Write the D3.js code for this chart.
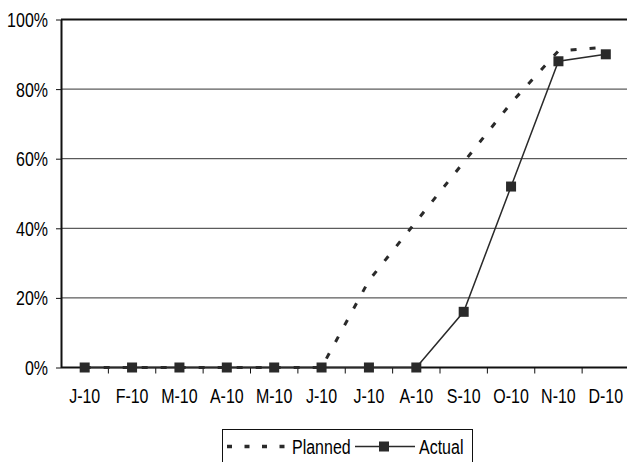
<!DOCTYPE html>
<html>
<head>
<meta charset="utf-8">
<script src="https://cdn.jsdelivr.net/npm/d3@7"></script>
<style>
  html, body { margin: 0; padding: 0; background: #fff; }
  svg { display: block; }
  text { font-family: "Liberation Sans", Arial, sans-serif; fill: #000; }
</style>
</head>
<body>
<script>
// Monthly progress, 2010
const months = ["J-10", "F-10", "M-10", "A-10", "M-10", "J-10", "J-10", "A-10", "S-10", "O-10", "N-10", "D-10"];
const planned = [0, 0, 0, 0, 0, 0, 25, 42, 59, 76, 91, 92];
const actual  = [0, 0, 0, 0, 0, 0, 0, 0, 16, 52, 88, 90];
const yTicks = [0, 20, 40, 60, 80, 100];
const seriesNames = ["Planned", "Actual"];

const W = 627, H = 462;
const ink = "#2a2a2a";
const fontSize = 19.5, squeeze = 0.82;

const svg = d3.select("body").append("svg")
  .attr("width", W).attr("height", H);

const plotLeft = 61, plotRight = 629.5, plotTop = 19.5, plotBottom = 367.5;

// band scale gives the tick boundaries, points sit at band centres
const xBand = d3.scaleBand().domain(d3.range(months.length)).range([plotLeft, plotRight]).padding(0);
const xc = i => xBand(i) + xBand.bandwidth() / 2;
const y = d3.scaleLinear().domain([0, 100]).range([plotBottom, plotTop]);

// horizontal gridlines
svg.append("g").selectAll("line")
  .data(yTicks.filter(d => d > 0))
  .join("line")
  .attr("x1", plotLeft).attr("x2", W)
  .attr("y1", d => y(d)).attr("y2", d => y(d))
  .attr("stroke", d => d === 100 ? "#111" : "#333")
  .attr("stroke-width", d => d === 100 ? 2 : 1);

// y axis
const yAxis = svg.append("g")
  .attr("transform", `translate(${plotLeft},0)`)
  .call(d3.axisLeft(y).tickValues(yTicks).tickFormat(d => d + "%").tickSize(5).tickSizeOuter(0));
yAxis.select(".domain").attr("stroke", "#111").attr("stroke-width", 2);
yAxis.selectAll(".tick line").attr("stroke", "#111").attr("stroke-width", 1);
yAxis.selectAll(".tick text")
  .attr("font-size", fontSize)
  .attr("font-family", "Liberation Sans, Arial, sans-serif")
  .attr("fill", "#000")
  .attr("x", -13 / squeeze)
  .attr("dy", "0.36em")
  .attr("transform", `scale(${squeeze},1)`);

// x axis: ticks on band boundaries, labels at band centres
const xAxisG = svg.append("g");
xAxisG.append("line")
  .attr("x1", plotLeft).attr("x2", W)
  .attr("y1", plotBottom).attr("y2", plotBottom)
  .attr("stroke", "#111").attr("stroke-width", 2);
xAxisG.selectAll("line.tk")
  .data(d3.range(1, months.length))
  .join("line").attr("class", "tk")
  .attr("x1", i => xBand(i)).attr("x2", i => xBand(i))
  .attr("y1", plotBottom).attr("y2", plotBottom + 6)
  .attr("stroke", "#111").attr("stroke-width", 1);
xAxisG.selectAll("text")
  .data(months)
  .join("text")
  .attr("transform", (d, i) => `translate(${xc(i)},403) scale(${squeeze},1)`)
  .attr("text-anchor", "middle")
  .attr("font-size", fontSize)
  .text(d => d);

// planned series: dashed line
const line = d3.line().x((d, i) => xc(i)).y(d => y(d));
svg.append("path")
  .datum(planned)
  .attr("d", line)
  .attr("fill", "none")
  .attr("stroke", ink)
  .attr("stroke-width", 3)
  .attr("stroke-dasharray", "6,13");

// actual series: solid line with square markers
svg.append("path")
  .datum(actual)
  .attr("d", line)
  .attr("fill", "none")
  .attr("stroke", ink)
  .attr("stroke-width", 1.5);
const m = 10;
svg.append("g").selectAll("rect")
  .data(actual)
  .join("rect")
  .attr("x", (d, i) => xc(i) - m / 2)
  .attr("y", d => y(d) - m / 2)
  .attr("width", m).attr("height", m)
  .attr("fill", ink);

// legend
const lg = svg.append("g");
lg.append("rect")
  .attr("x", 222.5).attr("y", 429.5)
  .attr("width", 250).attr("height", 45)
  .attr("fill", "#fff").attr("stroke", "#111").attr("stroke-width", 1);
lg.append("line")
  .attr("x1", 227).attr("x2", 291).attr("y1", 446.5).attr("y2", 446.5)
  .attr("stroke", ink).attr("stroke-width", 3.5).attr("stroke-dasharray", "5,12.5");
lg.append("text")
  .attr("transform", `translate(292,453.5) scale(${squeeze},1)`)
  .attr("font-size", fontSize)
  .text(seriesNames[0]);
lg.append("line")
  .attr("x1", 355).attr("x2", 415).attr("y1", 446.5).attr("y2", 446.5)
  .attr("stroke", ink).attr("stroke-width", 1.5);
lg.append("rect")
  .attr("x", 384 - m / 2).attr("y", 446.5 - m / 2)
  .attr("width", m).attr("height", m).attr("fill", ink);
lg.append("text")
  .attr("transform", `translate(419,453.5) scale(${squeeze},1)`)
  .attr("font-size", fontSize)
  .text(seriesNames[1]);
</script>
</body>
</html>
